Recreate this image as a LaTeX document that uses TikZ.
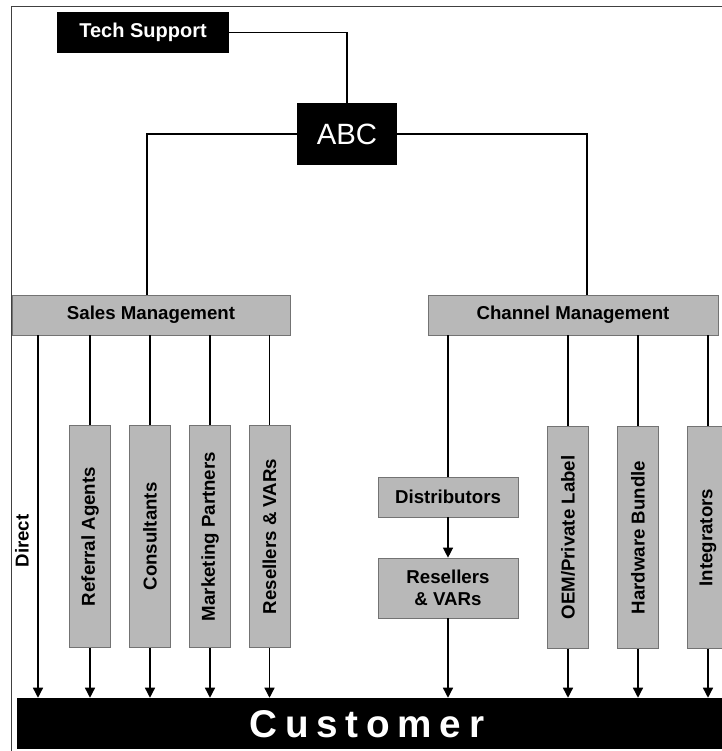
\documentclass[tikz,border=0pt]{standalone}
\usepackage{fontspec}
\setmainfont{Liberation Sans}
\usepackage{graphicx}
\usetikzlibrary{arrows.meta}
\def\pxu{0.75pt}
\tikzset{
  darkbox/.style={fill=black, text=white, inner sep=0pt},
  graybox/.style={fill=black!28, draw=black!55, line width=0.5pt, inner sep=0pt,
    font=\bfseries\fontsize{14}{16.5}\selectfont, align=center},
  vbox/.style={graybox, minimum width=41*\pxu, minimum height=222*\pxu},
  link/.style={line width=1pt},
  flow/.style={line width=1pt, -{Triangle[length=7.5pt,width=7.5pt]}},
}
\begin{document}
\begin{tikzpicture}[x=0.75pt,y=-0.75pt]
\useasboundingbox (0,0) rectangle (722,751);
% outer frame
\draw[black!75, line width=0.6pt] (11,6) rectangle (760,780);

% top of the hierarchy
\node[darkbox, minimum width=172*\pxu, minimum height=41*\pxu,
  font=\bfseries\fontsize{15}{18}\selectfont] (TS) at (143,32.5) {Tech Support};
\node[darkbox, minimum width=100*\pxu, minimum height=62*\pxu,
  font=\fontsize{22}{26}\selectfont] (ABC) at (347,134) {ABC};

% management levels
\node[graybox, minimum width=278*\pxu, minimum height=40*\pxu] (SM) at (151,315) {Sales Management};
\node[graybox, minimum width=290*\pxu, minimum height=40*\pxu] (CM) at (573,315) {Channel Management};

% sales channels
\node[vbox] (RA) at (90,536.5)  {\rotatebox{90}{Referral Agents}};
\node[vbox] (CO) at (150,536.5) {\rotatebox{90}{Consultants}};
\node[vbox] (MP) at (210,536.5) {\rotatebox{90}{Marketing Partners}};
\node[vbox] (RV) at (269.5,536.5) {\rotatebox{90}{Resellers \& VARs}};
\node[font=\bfseries\fontsize{14}{16}\selectfont, inner sep=0pt] (DL) at (22,541) {\rotatebox{90}{Direct}};
\coordinate (dir) at (38,540);

% partner channels
\node[graybox, minimum width=140*\pxu, minimum height=40*\pxu] (DI) at (448,497) {Distributors};
\node[graybox, minimum width=140*\pxu, minimum height=60*\pxu] (RV2) at (448,588) {Resellers\\\& VARs};
\node[vbox] (OEM) at (568,537.5) {\rotatebox{90}{OEM/Private Label}};
\node[vbox] (HB)  at (638,537.5) {\rotatebox{90}{Hardware Bundle}};
\node[vbox] (IN)  at (708,537.5) {\rotatebox{90}{Integrators}};

% customer bar
\node[fill=black, minimum width=713*\pxu, minimum height=51*\pxu, inner sep=0pt] (CU) at (373.5,723.5) {};
\node[text=white, inner sep=0pt,
  font=\bfseries\fontsize{29}{32}\selectfont\addfontfeature{LetterSpace=20}] (CUtxt) at (367,724) {Customer};

% connectors
\draw[link] (TS.east) -| (ABC.north);
\draw[link] (ABC.west) -| ([xshift=-3pt]SM.north);
\draw[link] (ABC.east) -| ([xshift=10.5pt]CM.north);

\draw[flow] (dir |- SM.south) -- (dir |- CU.north);
\foreach \n in {RA,CO,MP,RV,OEM,HB,IN}{
  \draw[link] (\n.north |- SM.south) -- (\n.north);
  \draw[flow] (\n.south) -- (\n.south |- CU.north);
}
\draw[link] (DI.north |- CM.south) -- (DI.north);
\draw[flow] (DI.south) -- (RV2.north);
\draw[flow] (RV2.south) -- (RV2.south |- CU.north);
\end{tikzpicture}
\end{document}
